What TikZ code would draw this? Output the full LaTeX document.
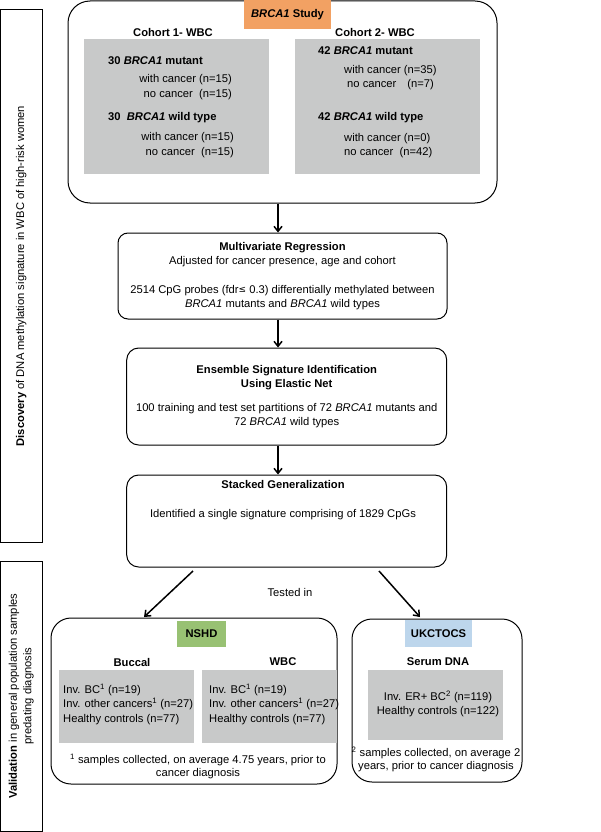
\documentclass[tikz,border=0pt]{standalone}
\usepackage{fontspec}
\setmainfont{Liberation Sans}
\usetikzlibrary{arrows.meta}

\definecolor{studyorange}{HTML}{F2A163}
\definecolor{nshdgreen}{HTML}{98C173}
\definecolor{ukblue}{HTML}{BDD6EC}
\definecolor{panelgray}{HTML}{C8C9C9}

\tikzset{
    txt/.style={font=\fontsize{11.2pt}{14.5pt}\selectfont, inner sep=0pt},
    hdr/.style={font=\fontsize{11.2pt}{14.5pt}\selectfont\bfseries, inner sep=0pt},
    roundbox/.style={draw, line width=1pt, rounded corners=#1, align=center,
        font=\fontsize{11.2pt}{14.5pt}\selectfont, inner sep=0pt},
    graybox/.style={fill=panelgray, minimum width=135pt, inner sep=0pt},
    tagbox/.style={hdr, inner sep=0pt},
    sidebox/.style={draw, line width=1pt, minimum width=41.5pt, inner sep=0pt},
    arr/.style={line width=1.5pt, -{Straight Barb[length=5pt, width=8pt]}}
}

\begin{document}
\begin{tikzpicture}[x=1pt, y=-1pt]
    \useasboundingbox (0,0) rectangle (600,832);

    % Side panels
    \node[sidebox, minimum height=532pt] (discpanel) at (21.25,276) {};
    \node[txt, rotate=90] (disctxt) at (discpanel.center)
        {\textbf{Discovery} of DNA methylation signature in WBC of high-risk women};
    \node[sidebox, minimum height=270pt] (valpanel) at (21.25,696) {};
    \node[txt, rotate=90, align=center] (valtxt) at (valpanel.center)
        {\textbf{Validation} in general population samples\\predating diagnosis};

    % BRCA1 study with both cohorts
    \node[roundbox=22pt, minimum width=429pt, minimum height=202pt] (study) at (282.5,102) {};
    \node[tagbox, fill=studyorange, minimum width=87pt, minimum height=29pt] (studytag) at (287.5,14.5) {\textit{BRCA1} Study};
    \node[hdr] (coh1) at (173,32) {Cohort 1- WBC};
    \node[hdr] (coh2) at (375,32) {Cohort 2- WBC};
    \node[graybox, minimum width=185pt, minimum height=135pt] (coh1box) at (176.5,106.5) {};
    \node[graybox, minimum width=185pt, minimum height=135pt] (coh2box) at (387.5,106.5) {};

    % Cohort 1 numbers
    \node[hdr, anchor=west] (mut1) at (108,61) {30 \textit{BRCA1} mutant};
    \node[txt, align=right, anchor=east] (mut1n) at (232,87) {with cancer (n=15)\\no cancer\ \ (n=15)};
    \node[hdr, anchor=west] (wt1) at (108,118) {30\ \ \textit{BRCA1} wild type};
    \node[txt, align=right, anchor=east] (wt1n) at (234,145) {with cancer (n=15)\\no cancer\ \ (n=15)};

    % Cohort 2 numbers
    \node[hdr, anchor=west] (mut2) at (318,51) {42 \textit{BRCA1} mutant};
    \node[txt, align=left, anchor=west] (mut2n) at (344,77.5) {with cancer (n=35)\\\hspace{3pt}no cancer\hspace{11pt}(n=7)};
    \node[hdr, anchor=west] (wt2) at (318,118) {42 \textit{BRCA1} wild type};
    \node[txt, align=left, anchor=west] (wt2n) at (344,145.5) {with cancer (n=0)\\no cancer\ \ (n=42)};

    % Discovery steps
    \node[roundbox=10pt, minimum width=329pt, minimum height=86pt] (multi) at (282.5,276)
        {\textbf{Multivariate Regression}\\Adjusted for cancer presence, age and cohort\\[14pt]
         2514 CpG probes (fdr\raisebox{0.5pt}{\fontspec{DejaVu Sans}\scalebox{0.8}{≤}} 0.3) differentially methylated between\\
         \textit{BRCA1} mutants and \textit{BRCA1} wild types};
    \node[roundbox=12pt, minimum width=320pt, minimum height=97pt] (ensemble) at (286.7,396.5)
        {\textbf{Ensemble Signature Identification}\\\textbf{Using Elastic Net}\\[9pt]
         100 training and test set partitions of 72 \textit{BRCA1} mutants and\\
         72 \textit{BRCA1} wild types};
    \node[roundbox=12pt, minimum width=320pt, minimum height=92pt] (stacked) at (286.7,521) {};
    \node[txt, align=center] (stackedtxt) at (283,500.5)
        {\textbf{Stacked Generalization}\\[14.5pt]Identified a single signature comprising of 1829 CpGs};

    % Main arrows
    \coordinate (spine) at (278,0);
    \draw[arr] (study.south -| spine) -- (multi.north -| spine);
    \draw[arr] (multi.south -| spine) -- (ensemble.north -| spine);
    \draw[arr] (ensemble.south -| spine) -- (stacked.north -| spine);

    % Split towards the validation sets
    \coordinate (nshdfrom) at (193,571);
    \coordinate (nshdto) at (144,617);
    \coordinate (ukfrom) at (379,571);
    \coordinate (ukto) at (420,617);
    \draw[arr] (nshdfrom) -- (nshdto);
    \draw[arr] (ukfrom) -- (ukto);
    \node[txt] (tested) at (290,592) {Tested in};

    % NSHD
    \node[roundbox=20pt, minimum width=286pt, minimum height=166pt] (nshd) at (194,701) {};
    \node[tagbox, fill=nshdgreen, minimum width=49pt, minimum height=26pt] (nshdtag) at (201.5,634) {NSHD};
    \node[hdr] (buccal) at (132,662) {Buccal};
    \node[hdr] (wbc) at (283,662) {WBC};
    \node[graybox, minimum height=73pt] (buccalbox) at (126.5,706.5) {};
    \node[graybox, minimum height=73pt] (wbcbox) at (269.5,706.5) {};
    \node[txt, align=left, anchor=west] (buccaltxt) at (63,704)
        {Inv. BC\textsuperscript{1} (n=19)\\Inv. other cancers\textsuperscript{1} (n=27)\\Healthy controls (n=77)};
    \node[txt, align=left, anchor=west] (wbctxt) at (209,704)
        {Inv. BC\textsuperscript{1} (n=19)\\Inv. other cancers\textsuperscript{1} (n=27)\\Healthy controls (n=77)};
    \node[txt, align=center, font=\fontsize{11.2pt}{13pt}\selectfont] (nshdnote) at (198,766.5)
        {\textsuperscript{1} samples collected, on average 4.75 years, prior to\\cancer diagnosis};

    % UKCTOCS
    \node[roundbox=20pt, minimum width=170pt, minimum height=163pt] (ukc) at (437,700.5) {};
    \node[tagbox, fill=ukblue, minimum width=67pt, minimum height=27pt] (ukctag) at (438.5,633.5) {UKCTOCS};
    \node[hdr] (serum) at (438,662) {Serum DNA};
    \node[graybox, minimum height=70pt] (serumbox) at (435.5,705) {};
    \node[txt, align=center] (serumtxt) at (438,704)
        {Inv. ER+ BC\textsuperscript{2} (n=119)\\Healthy controls (n=122)};
    \node[txt, align=center, font=\fontsize{11.2pt}{13pt}\selectfont] (ukcnote) at (436,759)
        {\textsuperscript{2} samples collected, on average 2\\years, prior to cancer diagnosis};
\end{tikzpicture}
\end{document}
